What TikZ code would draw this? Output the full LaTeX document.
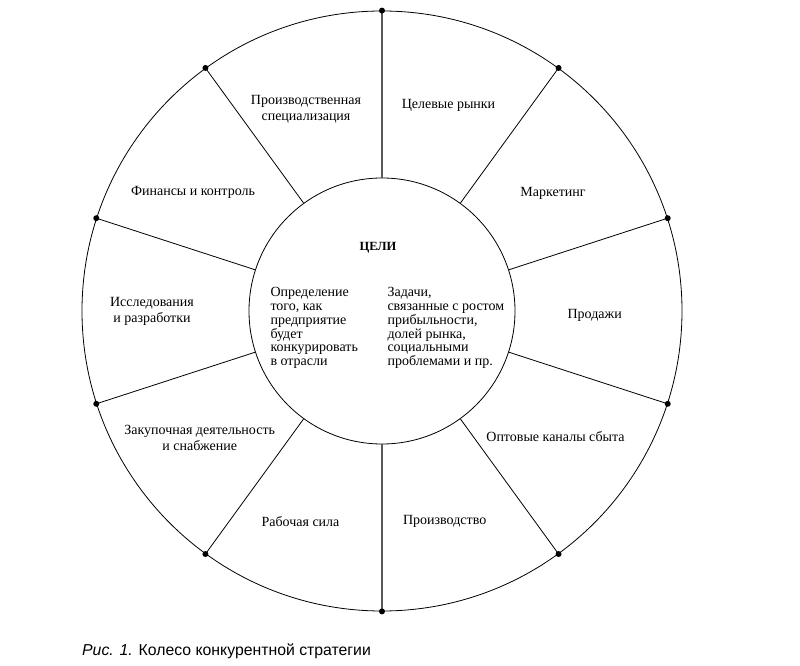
\documentclass[tikz,border=0pt]{standalone}
\usepackage{fontspec}
\setmainfont{Liberation Serif}
\newfontfamily\capfont{Liberation Sans}
\tikzset{
  wheel/.style={line width=0.8pt},
  axisline/.style={line width=1.1pt, black!65},
  rimdot/.style={circle, fill, inner sep=0pt, minimum size=6pt},
  seglabel/.style={align=center, font=\fontsize{14}{16}\selectfont},
  goaltext/.style={align=left, anchor=west, font=\fontsize{14}{13.8}\selectfont}
}
\begin{document}
\begin{tikzpicture}[x=1pt, y=1pt]
\useasboundingbox (-382,-355) rectangle (418,311);
\node[circle, draw, wheel, inner sep=0pt, minimum size=600pt] (rim) at (0,0) {};
\node[circle, draw, wheel, inner sep=0pt, minimum size=266pt] (goals) at (0,0) {};
\draw[axisline] (goals.90) -- (rim.90) node[rimdot, black] (p1) {};
\draw[wheel] (goals.54) -- (rim.54) node[rimdot] (p2) {};
\draw[wheel] (goals.18) -- (rim.18) node[rimdot] (p3) {};
\draw[wheel] (goals.-18) -- (rim.-18) node[rimdot] (p4) {};
\draw[wheel] (goals.-54) -- (rim.-54) node[rimdot] (p5) {};
\draw[axisline] (goals.-90) -- (rim.-90) node[rimdot, black] (p6) {};
\draw[wheel] (goals.-126) -- (rim.-126) node[rimdot] (p7) {};
\draw[wheel] (goals.-162) -- (rim.-162) node[rimdot] (p8) {};
\draw[wheel] (goals.162) -- (rim.162) node[rimdot] (p9) {};
\draw[wheel] (goals.126) -- (rim.126) node[rimdot] (p10) {};
\node[seglabel] (spec) at (-76,201.5) {Производственная\\ специализация};
\node[seglabel] (target) at (66.5,206) {Целевые рынки};
\node[seglabel] (mkt) at (171,118) {Маркетинг};
\node[seglabel] (sales) at (212.7,-4) {Продажи};
\node[seglabel] (whole) at (173.5,-126) {Оптовые каналы сбыта};
\node[seglabel] (prod) at (62.7,-210) {Производство};
\node[seglabel] (labour) at (-81.5,-210.7) {Рабочая сила};
\node[seglabel] (supply) at (-182.3,-127) {Закупочная деятельность\\ и снабжение};
\node[seglabel] (rnd) at (-230,0) {Исследования\\ и разработки};
\node[seglabel] (fin) at (-189,118.3) {Финансы и контроль};
\node[font=\bfseries\fontsize{12.5}{15}\selectfont] (title) at (-4,63) {ЦЕЛИ};
\node[goaltext] (how) at (-115,-17) {Определение\\ того, как\\ предприятие\\ будет\\ конкурировать\\ в отрасли};
\node[goaltext] (tasks) at (2,-17) {Задачи,\\ связанные с ростом\\ прибыльности,\\ долей рынка,\\ социальными\\ проблемами и пр.};
\node[anchor=base west, inner sep=0pt, font=\capfont\fontsize{15.8}{18}\selectfont] (caption) at (-300,-344) {\textit{Рис. 1.} Колесо конкурентной стратегии};
\end{tikzpicture}
\end{document}
